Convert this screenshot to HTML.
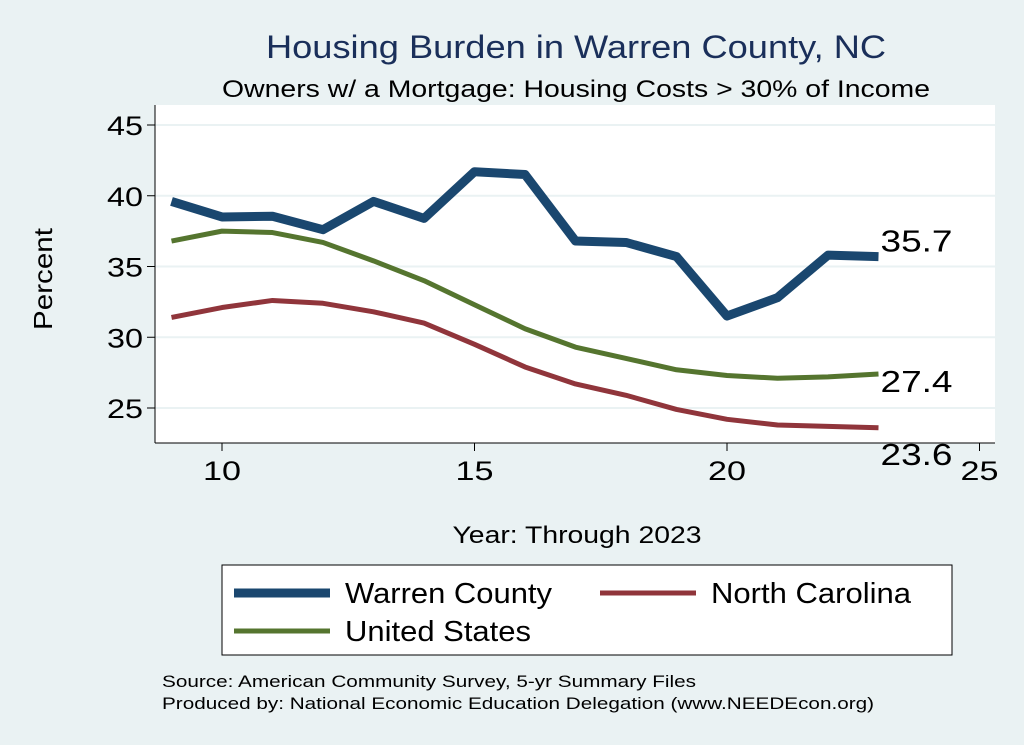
<!DOCTYPE html>
<html><head><meta charset="utf-8"><style>
body{margin:0;background:#eaf2f3;}
svg{display:block;font-family:"Liberation Sans",Arial,sans-serif;}
</style></head><body>
<svg width="1024" height="745" viewBox="0 0 1024 745">
<rect x="0" y="0" width="1024" height="745" fill="#eaf2f3"/>
<text x="576" y="58" font-size="32" fill="#1a2f5a" text-anchor="middle" textLength="620" lengthAdjust="spacingAndGlyphs">Housing Burden in Warren County, NC</text>
<text x="576" y="97" font-size="24" fill="#000" text-anchor="middle" textLength="708" lengthAdjust="spacingAndGlyphs">Owners w/ a Mortgage: Housing Costs &gt; 30% of Income</text>
<rect x="155" y="105" width="840" height="338" fill="#fff"/>
<g id="grid"></g>
<g id="series"></g>
<g id="axes"></g>
<text x="52" y="279" font-size="26" text-anchor="middle" textLength="102" lengthAdjust="spacingAndGlyphs" transform="rotate(-90 52 279)">Percent</text>
<text x="577" y="543" font-size="24" text-anchor="middle" textLength="249" lengthAdjust="spacingAndGlyphs">Year: Through 2023</text>
<g>
<rect x="222" y="565" width="730" height="90" fill="#fff" stroke="#000" stroke-width="1"/>
<line x1="234" y1="593" x2="330" y2="593" stroke="#1a476f" stroke-width="9"/>
<text x="345" y="603" font-size="29" textLength="207" lengthAdjust="spacingAndGlyphs">Warren County</text>
<line x1="600" y1="593" x2="696" y2="593" stroke="#90353b" stroke-width="5"/>
<text x="711" y="603" font-size="29" textLength="200" lengthAdjust="spacingAndGlyphs">North Carolina</text>
<line x1="234" y1="631" x2="330" y2="631" stroke="#55752f" stroke-width="5"/>
<text x="345" y="641" font-size="29" textLength="186" lengthAdjust="spacingAndGlyphs">United States</text>
</g>
<text x="162" y="687" font-size="17" textLength="534" lengthAdjust="spacingAndGlyphs">Source: American Community Survey, 5-yr Summary Files</text>
<text x="162" y="709" font-size="17" textLength="712" lengthAdjust="spacingAndGlyphs">Produced by: National Economic Education Delegation (www.NEEDEcon.org)</text>
</svg>
<script>
const years=[9,10,11,12,13,14,15,16,17,18,19,20,21,22,23];
const warren=[39.6,38.5,38.55,37.6,39.6,38.4,41.7,41.5,36.8,36.7,35.7,31.5,32.8,35.8,35.7];
const us=[36.8,37.5,37.4,36.7,35.4,34.0,32.3,30.6,29.3,28.5,27.7,27.3,27.1,27.2,27.4];
const nc=[31.4,32.1,32.6,32.4,31.8,31.0,29.5,27.9,26.7,25.9,24.9,24.2,23.8,23.7,23.6];
const xTicks=[10,15,20,25];
const yTicks=[25,30,35,40,45];
const NS="http://www.w3.org/2000/svg";
const X=v=>222+(v-10)*50.5;
const Y=v=>408-(v-25)*14.15;
function mk(t,a,p){const e=document.createElementNS(NS,t);for(const k in a)e.setAttribute(k,a[k]);p.appendChild(e);return e;}
const grid=document.getElementById('grid'),ax=document.getElementById('axes'),sr=document.getElementById('series');
yTicks.forEach(t=>{
 const g=mk('line',{x1:155,x2:995,y1:Y(t),y2:Y(t),stroke:'#eaf2f3','stroke-width':2},grid);
 
 
 const tk=mk('line',{x1:147,x2:155,y1:Y(t),y2:Y(t),stroke:'#000'},ax);
 
 
 const l=mk('text',{x:143,y:Y(t)+10,'font-size':27,'text-anchor':'end',textLength:36,lengthAdjust:'spacingAndGlyphs'},ax);l.textContent=t;
 
 
});
xTicks.forEach(t=>{
 const tk=mk('line',{x1:X(t),x2:X(t),y1:443,y2:451,stroke:'#000'},ax);
 
 
 const l=mk('text',{x:X(t),y:480,'font-size':27,'text-anchor':'middle',textLength:38,lengthAdjust:'spacingAndGlyphs'},ax);l.textContent=t;
 
 
});
const a1=mk('line',{x1:155,x2:155,y1:105,y2:443,stroke:'#000'},ax);


const a2=mk('line',{x1:155,x2:995,y1:443,y2:443,stroke:'#000'},ax);


function series(vals,color,w,name,ly){
 const pts=years.map((y,i)=>X(y)+','+Y(vals[i])).join(' ');
 const p=mk('polyline',{points:pts,fill:'none',stroke:color,'stroke-width':w,'stroke-linejoin':'round'},sr);
 
 
 const last=vals[vals.length-1];
 const t=mk('text',{x:X(years[years.length-1])+2,y:Y(last)+ly,'font-size':31,textLength:72,lengthAdjust:'spacingAndGlyphs'},sr);
 t.textContent=last.toFixed(1);
 
 
}
series(us,'#55752f',5,'us',18);
series(nc,'#90353b',5,'nc',37);
series(warren,'#1a476f',9,'warren',-5);
</script>
</body></html>
